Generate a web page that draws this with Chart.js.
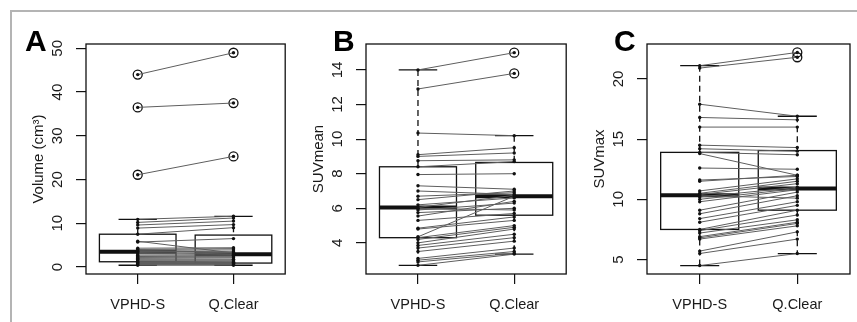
<!DOCTYPE html>
<html>
<head>
<meta charset="utf-8">
<script src="https://cdn.jsdelivr.net/npm/chart.js@4.4.0/dist/chart.umd.min.js"></script>
<style>
    body { margin: 0; background: #fff; width: 857px; height: 322px; overflow: hidden; position: relative; }
    #frame { position: absolute; left: 10px; top: 10px; right: 0; bottom: 0; border-top: 2px solid #b4b4b4; border-left: 2px solid #b4b4b4; }
    canvas { position: absolute; top: 12px; }
</style>
</head>
<body>
<div id="frame"></div>
<canvas id="chartA" style="left:11px" width="280" height="310"></canvas>
<canvas id="chartB" style="left:291px" width="281" height="310"></canvas>
<canvas id="chartC" style="left:572px" width="285" height="310"></canvas>
<script>
var categories = ['VPHD-S', 'Q.Clear'];

// A - Volume (cm3), cặp giá trị theo từng bệnh nhân
var volumeVPHD = [44.0, 36.5, 21.1, 10.9, 10.2, 9.6, 8.9, 7.5, 5.9, 5.7, 4.3, 4.0, 3.8, 3.6, 3.5, 3.3,
    3.0, 2.7, 2.4, 2.2, 2.0, 1.8, 1.6, 1.4, 1.3, 1.1, 1.0, 0.9, 0.8, 0.7, 0.6, 0.4];
var volumeQClear = [49.0, 37.5, 25.3, 11.6, 11.2, 10.5, 9.7, 9.0, 3.2, 6.5, 4.4, 4.2, 3.9, 3.5, 3.3, 3.0,
    2.9, 2.7, 2.5, 2.3, 2.1, 1.8, 1.6, 1.4, 1.2, 1.1, 1.0, 0.9, 0.8, 0.7, 0.6, 0.4];
// [whisker thấp, Q1, trung vị, Q3, whisker cao]
var volumeBoxVPHD = [0.4, 1.2, 3.5, 7.5, 10.9];
var volumeBoxQClear = [0.4, 0.9, 2.9, 7.3, 11.6];
var volumeTicks = [0, 10, 20, 30, 40, 50];

// B - SUVmean
var suvMeanVPHD = [14.0, 12.9, 10.35, 9.1, 9.0, 8.75, 8.4, 7.95, 7.3, 7.0, 6.7, 6.5, 6.2, 6.05, 6.0, 5.9,
    5.75, 5.55, 5.3, 4.85, 4.8, 4.35, 4.3, 4.2, 4.0, 3.85, 3.7, 3.5, 3.1, 3.0, 2.9, 2.7];
var suvMeanQClear = [15.0, 13.8, 10.2, 9.5, 9.2, 8.8, 8.7, 8.0, 7.1, 6.8, 6.9, 7.0, 6.6, 6.75, 5.9, 6.3,
    6.0, 6.4, 5.7, 5.5, 5.3, 6.7, 5.0, 4.9, 4.8, 4.5, 4.3, 4.1, 3.7, 3.5, 3.4, 3.35];
var suvMeanBoxVPHD = [2.7, 4.3, 6.05, 8.4, 14.0];
var suvMeanBoxQClear = [3.35, 5.6, 6.7, 8.65, 10.2];
var suvMeanTicks = [4, 6, 8, 10, 12, 14];

// C - SUVmax
var suvMaxVPHD = [21.1, 20.9, 17.9, 16.8, 16.0, 14.5, 14.2, 13.9, 13.8, 12.6, 11.6, 11.5, 10.7, 10.5, 10.4, 10.3,
    10.2, 10.0, 9.8, 9.1, 8.8, 8.4, 8.1, 7.5, 7.4, 7.2, 6.9, 6.8, 6.7, 5.7, 5.5, 4.5];
var suvMaxQClear = [22.2, 21.8, 16.9, 16.6, 16.0, 14.3, 14.0, 13.7, 12.0, 12.5, 11.9, 12.0, 11.7, 11.5, 11.3, 10.1,
    11.0, 10.9, 10.8, 10.6, 10.3, 9.8, 9.5, 9.1, 8.7, 8.3, 8.1, 8.0, 7.8, 7.3, 6.7, 5.5];
var suvMaxBoxVPHD = [4.5, 7.5, 10.35, 13.9, 21.1];
var suvMaxBoxQClear = [5.5, 9.1, 10.9, 14.05, 16.9];
var suvMaxTicks = [5, 10, 15, 20];

var FONT = "'Liberation Sans', Arial, sans-serif";
var TEXT = '#1a1a1a';

// vẽ hộp, râu, trung vị và khung
var boxPlugin = {
    id: 'boxes',
    beforeDatasetsDraw(chart, args, o) {
        const ctx = chart.ctx, xs = chart.scales.x, ys = chart.scales.y, a = chart.chartArea;
        function line(x1, y1, x2, y2) { ctx.beginPath(); ctx.moveTo(x1, y1); ctx.lineTo(x2, y2); ctx.stroke(); }
        ctx.save();
        ctx.strokeStyle = '#111';
        o.stats.forEach((s, i) => {
            const c = i + 1;
            const xl = xs.getPixelForValue(c - 0.4), xr = xs.getPixelForValue(c + 0.4);
            const cl = xs.getPixelForValue(c - 0.2), cr = xs.getPixelForValue(c + 0.2);
            const xc = xs.getPixelForValue(c);
            const p = s.map(v => ys.getPixelForValue(v));
            ctx.lineWidth = 1.3;
            ctx.setLineDash([6, 4]);
            line(xc, p[4], xc, p[3]);
            line(xc, p[1], xc, p[0]);
            ctx.setLineDash([]);
            line(cl, p[0], cr, p[0]);
            line(cl, p[4], cr, p[4]);
            ctx.strokeRect(xl, p[3], xr - xl, p[1] - p[3]);
            ctx.lineWidth = 4;
            line(xl, p[2], xr, p[2]);
        });
        ctx.lineWidth = 1.3;
        ctx.strokeRect(a.left, a.top, a.right - a.left, a.bottom - a.top);
        ctx.restore();
    },
    afterDraw(chart, args, o) {
        const ctx = chart.ctx;
        ctx.save();
        ctx.fillStyle = '#000';
        ctx.font = 'bold 30px ' + FONT;
        ctx.textBaseline = 'alphabetic';
        ctx.fillText(o.letter, o.letterX, 39);
        ctx.restore();
    }
};

function veBieuDo(id, cfg) {
    const datasets = [];
    // các điểm ngoại lai (vòng tròn)
    const outliers = [];
    [cfg.v1, cfg.v2].forEach((vals, i) => {
        const st = cfg.stats[i];
        vals.forEach(v => { if (v > st[4] + 1e-9 || v < st[0] - 1e-9) outliers.push({ x: i + 1, y: v }); });
    });
    // đường nối từng cặp
    cfg.v1.forEach((v, i) => {
        datasets.push({
            data: [{ x: 1, y: v }, { x: 2, y: cfg.v2[i] }],
            showLine: true,
            borderColor: '#5e5e5e',
            borderWidth: 1,
            pointRadius: 1.7,
            pointBackgroundColor: '#111',
            pointBorderWidth: 0
        });
    });
    datasets.push({
        data: outliers,
        pointStyle: 'circle',
        pointRadius: 4.5,
        borderColor: '#111',
        borderWidth: 1.3,
        backgroundColor: 'rgba(0,0,0,0)'
    });

    new Chart(document.getElementById(id), {
        type: 'scatter',
        data: { datasets: datasets },
        options: {
            responsive: false,
            animation: false,
            layout: { padding: { top: 32, right: cfg.padRight, left: 0, bottom: 0 } },
            plugins: {
                legend: { display: false },
                tooltip: { enabled: false },
                boxes: { stats: cfg.stats, letter: cfg.letter, letterX: cfg.letterX }
            },
            scales: {
                x: {
                    type: 'linear', min: 0.46, max: 2.54,
                    afterBuildTicks: s => { s.ticks = [{ value: 1 }, { value: 2 }]; },
                    afterFit: s => { s.height = 48; },
                    ticks: {
                        callback: v => categories[v - 1],
                        font: { size: 14.5, family: FONT }, color: TEXT,
                        padding: 12, minRotation: 0, maxRotation: 0
                    },
                    grid: { drawOnChartArea: false, drawTicks: true, tickLength: 10, color: '#111', lineWidth: 1.2 },
                    border: { display: false }
                },
                y: {
                    type: 'linear', min: cfg.yMin, max: cfg.yMax,
                    afterBuildTicks: s => { s.ticks = cfg.ticks.map(v => ({ value: v })); },
                    afterFit: s => { s.width = 75; },
                    ticks: {
                        font: { size: 15, family: FONT }, color: TEXT,
                        minRotation: 90, maxRotation: 90, crossAlign: 'center', padding: 9.7
                    },
                    grid: { drawOnChartArea: false, drawTicks: true, tickLength: 10, color: '#111', lineWidth: 1.2 },
                    border: { display: false },
                    title: {
                        display: true, text: cfg.title, color: TEXT,
                        font: { size: 15, family: FONT }, padding: { top: 19, bottom: 0 }
                    }
                }
            }
        },
        plugins: [boxPlugin]
    });
}

veBieuDo('chartA', {
    v1: volumeVPHD, v2: volumeQClear, stats: [volumeBoxVPHD, volumeBoxQClear],
    ticks: volumeTicks, yMin: -1.6, yMax: 51, title: 'Volume (cm\u00B3)',
    letter: 'A', letterX: 14, padRight: 3.5
});
veBieuDo('chartB', {
    v1: suvMeanVPHD, v2: suvMeanQClear, stats: [suvMeanBoxVPHD, suvMeanBoxQClear],
    ticks: suvMeanTicks, yMin: 2.2, yMax: 15.5, title: 'SUVmean',
    letter: 'B', letterX: 42, padRight: 4
});
veBieuDo('chartC', {
    v1: suvMaxVPHD, v2: suvMaxQClear, stats: [suvMaxBoxVPHD, suvMaxBoxQClear],
    ticks: suvMaxTicks, yMin: 3.8, yMax: 22.9, title: 'SUVmax',
    letter: 'C', letterX: 42, padRight: 7
});
</script>
</body>
</html>
